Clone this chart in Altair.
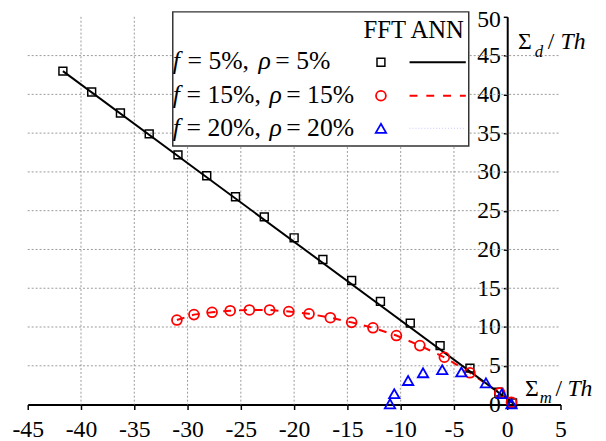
import altair as alt
import pandas as pd

# ---------------- data ----------------
x_f5 = [-41.7, -39.0, -36.3, -33.6, -30.9, -28.2, -25.5, -22.8, -20.0, -17.3,
        -14.6, -11.9, -9.1, -6.3, -3.5, -0.8, 0.5]
y_f5 = [43.0, 40.3, 37.6, 34.9, 32.2, 29.5, 26.8, 24.2, 21.5, 18.7,
        16.0, 13.3, 10.5, 7.6, 4.7, 1.6, 0.2]
ann_x_f5 = [-41.7, 0.7]
ann_y_f5 = [43.0, 0.0]

x_f15 = [-31.0, -29.4, -27.7, -26.0, -24.2, -22.3, -20.5, -18.6, -16.6, -14.6,
         -12.6, -10.4, -8.2, -5.9, -3.5, -0.7, 0.4]
y_f15 = [10.9, 11.6, 11.9, 12.1, 12.2, 12.2, 12.0, 11.7, 11.2, 10.6,
         9.9, 8.9, 7.6, 6.1, 4.1, 1.5, 0.3]

x_f20 = [-11.0, -10.6, -9.3, -7.9, -6.1, -4.3, -2.0, -0.5, 0.4]
y_f20 = [0.1, 1.4, 3.1, 4.1, 4.5, 4.2, 2.8, 1.4, 0.1]

x_ticks = list(range(-45, 10, 5))
y_ticks = list(range(0, 55, 5))
grid_x = list(range(-40, 0, 5))
grid_y = list(range(5, 50, 5))

legend_f = ["5%", "15%", "20%"]
legend_rho = ["5%", "15%", "20%"]
legend_header = "FFT ANN"

# ---------------- layout ----------------
W, H = 540, 393
FONT = "Liberation Serif"

xs = alt.Scale(domain=[-45, 5], nice=False, zero=False)
ys = alt.Scale(domain=[0, 50], nice=False, zero=False)

x_axis = alt.Axis(values=x_ticks, grid=False, title=None, domainColor="black",
                  domainWidth=2, tickColor="black", tickWidth=1.5, tickSize=5,
                  labelFont=FONT, labelFontSize=24, labelColor="black",
                  labelPadding=8, labelFlush=False, labelOverlap=False,
                  labelExpr="toString(datum.value)")
y_axis = alt.Axis(values=y_ticks, grid=False, title=None, domainColor="black",
                  domainWidth=2, tickColor="black", tickWidth=1.5, tickSize=4,
                  labelFont=FONT, labelFontSize=24, labelColor="black",
                  labelPadding=3, labelFlush=False, labelOverlap=False,
                  labelOffset={"condition": {"test": "datum.value == 50", "value": 3}, "value": 0},
                  offset=-486, labelExpr="toString(datum.value)")

X = alt.X("x:Q", scale=xs, axis=x_axis)
Y = alt.Y("y:Q", scale=ys, axis=y_axis)


def df(x, y):
    return pd.DataFrame({"x": x, "y": y})


one = alt.Data(values=[{}])

layers = []

# grid
layers.append(
    alt.Chart(pd.DataFrame({"x": grid_x})).mark_rule(
        color="#999999", strokeDash=[2, 2], strokeWidth=1
    ).encode(x=X, y=alt.value(0), y2=alt.value(H))
)
layers.append(
    alt.Chart(pd.DataFrame({"y": grid_y})).mark_rule(
        color="#999999", strokeDash=[2, 2], strokeWidth=1
    ).encode(y=Y, x=alt.value(0), x2=alt.value(W))
)

# ANN curves
layers.append(
    alt.Chart(df(x_f20, y_f20)).mark_line(
        color="#c8c8ff", strokeDash=[1, 2], strokeWidth=1
    ).encode(x=X, y=Y, order=alt.Order("x:Q"))
)
layers.append(
    alt.Chart(df(x_f15, y_f15)).mark_line(
        color="#ff0000", strokeDash=[8, 8], strokeWidth=2
    ).encode(x=X, y=Y, order=alt.Order("x:Q"))
)
layers.append(
    alt.Chart(df(ann_x_f5, ann_y_f5)).mark_line(
        color="black", strokeWidth=2
    ).encode(x=X, y=Y)
)

# FFT points
layers.append(
    alt.Chart(df(x_f5, y_f5)).mark_point(
        shape="square", filled=False, size=64, strokeWidth=1.5, color="black", opacity=1
    ).encode(x=X, y=Y)
)
layers.append(
    alt.Chart(df(x_f15, y_f15)).mark_point(
        shape="circle", filled=False, size=100, strokeWidth=1.8, color="#ff0000", opacity=1
    ).encode(x=X, y=Y)
)
layers.append(
    alt.Chart(df(x_f20, y_f20)).mark_point(
        shape="triangle-up", filled=False, size=110, strokeWidth=1.8, color="#0000ff", opacity=1
    ).encode(x=X, y=Y)
)


def txt(s, x, y, size=26, style="normal", align="left"):
    return alt.Chart(one).mark_text(
        text=s, font=FONT, fontSize=size, fontStyle=style, align=align,
        baseline="alphabetic", color="black"
    ).encode(x=alt.value(x), y=alt.value(y))


# legend box
layers.append(
    alt.Chart(one).mark_rect(fill="white", stroke="#333333", strokeWidth=1.5).encode(
        x=alt.value(147), x2=alt.value(447), y=alt.value(-5), y2=alt.value(131)
    )
)
layers.append(txt(legend_header, 442, 21, size=25, align="right"))

row_y = [53, 87, 121]
eq1_x = [162, 161, 161]
rho_x = [234, 245, 245]
eq2_x = [251, 262, 262]
for i in range(3):
    layers.append(txt("f", 147, row_y[i], style="italic"))
    layers.append(txt("= " + legend_f[i] + ",", eq1_x[i], row_y[i]))
    layers.append(txt("ρ", rho_x[i], row_y[i], style="italic"))
    layers.append(txt("= " + legend_rho[i], eq2_x[i], row_y[i]))

sym_y = [46, 80, 113]
layers.append(alt.Chart(one).mark_point(shape="square", filled=False, size=64,
              strokeWidth=1.5, color="black", opacity=1).encode(
              x=alt.value(358), y=alt.value(sym_y[0])))
layers.append(alt.Chart(one).mark_point(shape="circle", filled=False, size=100,
              strokeWidth=1.8, color="#ff0000", opacity=1).encode(
              x=alt.value(358), y=alt.value(sym_y[1])))
layers.append(alt.Chart(one).mark_point(shape="triangle-up", filled=False, size=110,
              strokeWidth=1.8, color="#0000ff", opacity=1).encode(
              x=alt.value(358), y=alt.value(sym_y[2])))
layers.append(alt.Chart(one).mark_rule(color="black", strokeWidth=2).encode(
    x=alt.value(387), x2=alt.value(444), y=alt.value(sym_y[0])))
layers.append(alt.Chart(one).mark_rule(color="#ff0000", strokeWidth=2, strokeDash=[8, 9]).encode(
    x=alt.value(387), x2=alt.value(444), y=alt.value(sym_y[1])))
layers.append(alt.Chart(one).mark_rule(color="#c8c8ff", strokeWidth=1, strokeDash=[1, 2]).encode(
    x=alt.value(387), x2=alt.value(444), y=alt.value(sym_y[2])))

# axis titles
layers.append(txt("Σ", 504, 384, size=24))
layers.append(txt("m", 519, 391, size=17, style="italic"))
layers.append(txt("/", 535, 384, size=24))
layers.append(txt("Th", 547, 384, size=24, style="italic"))

layers.append(txt("Σ", 497, 33, size=24))
layers.append(txt("d", 514, 41, size=17, style="italic"))
layers.append(txt("/", 527, 33, size=24))
layers.append(txt("Th", 540, 33, size=24, style="italic"))

chart = alt.layer(*layers).properties(
    width=W, height=H,
    autosize=alt.AutoSizeParams(type="none"),
    padding={"left": 20, "top": 6, "right": 38, "bottom": 34},
).configure_view(stroke=None)

chart.save("out.html", embed_options={"renderer": "svg", "actions": False})
